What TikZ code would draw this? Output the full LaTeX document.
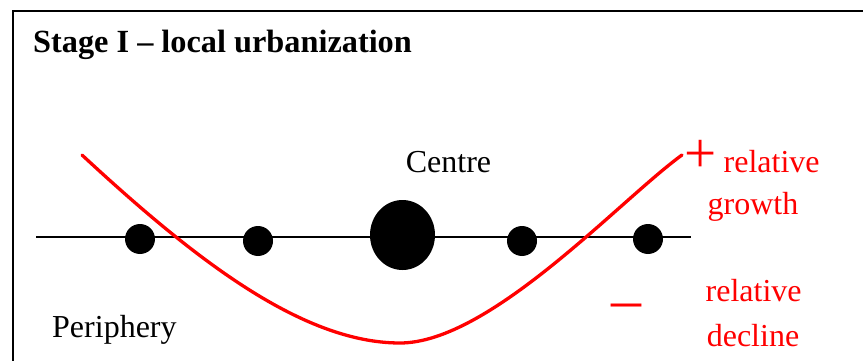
\documentclass[tikz,border=0pt]{standalone}
\usepackage{fontspec}
\setmainfont{Liberation Serif}
\usetikzlibrary{shapes.geometric}
\begin{document}
\begin{tikzpicture}[x=1pt,y=-1pt,
  dot/.style={circle,fill=black,inner sep=0pt,minimum size=30pt},
  lbl/.style={font=\fontsize{32}{38}\selectfont,inner sep=0pt,anchor=base},
  redlbl/.style={lbl,text=red},
  axisline/.style={line width=1.6pt},
  curve/.style={red,line width=3.3pt,line cap=round}]
\useasboundingbox (0,0) rectangle (863,361);
\clip (0,0) rectangle (863,361);
\draw[line width=2pt] (12.5,11) rectangle (900,420);
\node[lbl,font=\fontsize{32.3}{38}\selectfont\bfseries,anchor=base west] (title) at (33,53) {Stage I – local urbanization};
\coordinate (L) at (36,237);
\coordinate (R) at (691,237);
\draw[axisline] (L) -- (R);
\node[dot] (p1) at (140,239) {};
\node[dot] (p2) at (258,241) {};
\node[ellipse,fill=black,inner sep=0pt,minimum width=65pt,minimum height=70pt] (c) at (402.5,235) {};
\node[dot] (p3) at (522,241) {};
\node[dot] (p4) at (648,239) {};
\coordinate (cs) at (82,155);
\coordinate (cm) at (400,343);
\coordinate (ce) at (682,155);
\draw[curve] (cs) .. controls (190,255) and (300,343) .. (cm) .. controls (490,343) and (620,200) .. (ce);
\node[lbl] (centre) at (448.5,172) {Centre};
\node[lbl,anchor=base west] (periphery) at (52,337) {Periphery};
\node[font=\fontsize{57}{60}\selectfont,text=red,inner sep=0pt,anchor=base] (plus) at (700.5,172) {+};
\node[redlbl] (rel1) at (771.7,172.7) {relative};
\node[redlbl] (growth) at (753,214) {growth};
\node[font=\fontsize{60}{62}\selectfont,text=red,inner sep=0pt,anchor=base] (minus) at (626,319) {–};
\node[redlbl] (rel2) at (753.7,301.7) {relative};
\node[redlbl] (decline) at (753,346) {decline};
\end{tikzpicture}
\end{document}
